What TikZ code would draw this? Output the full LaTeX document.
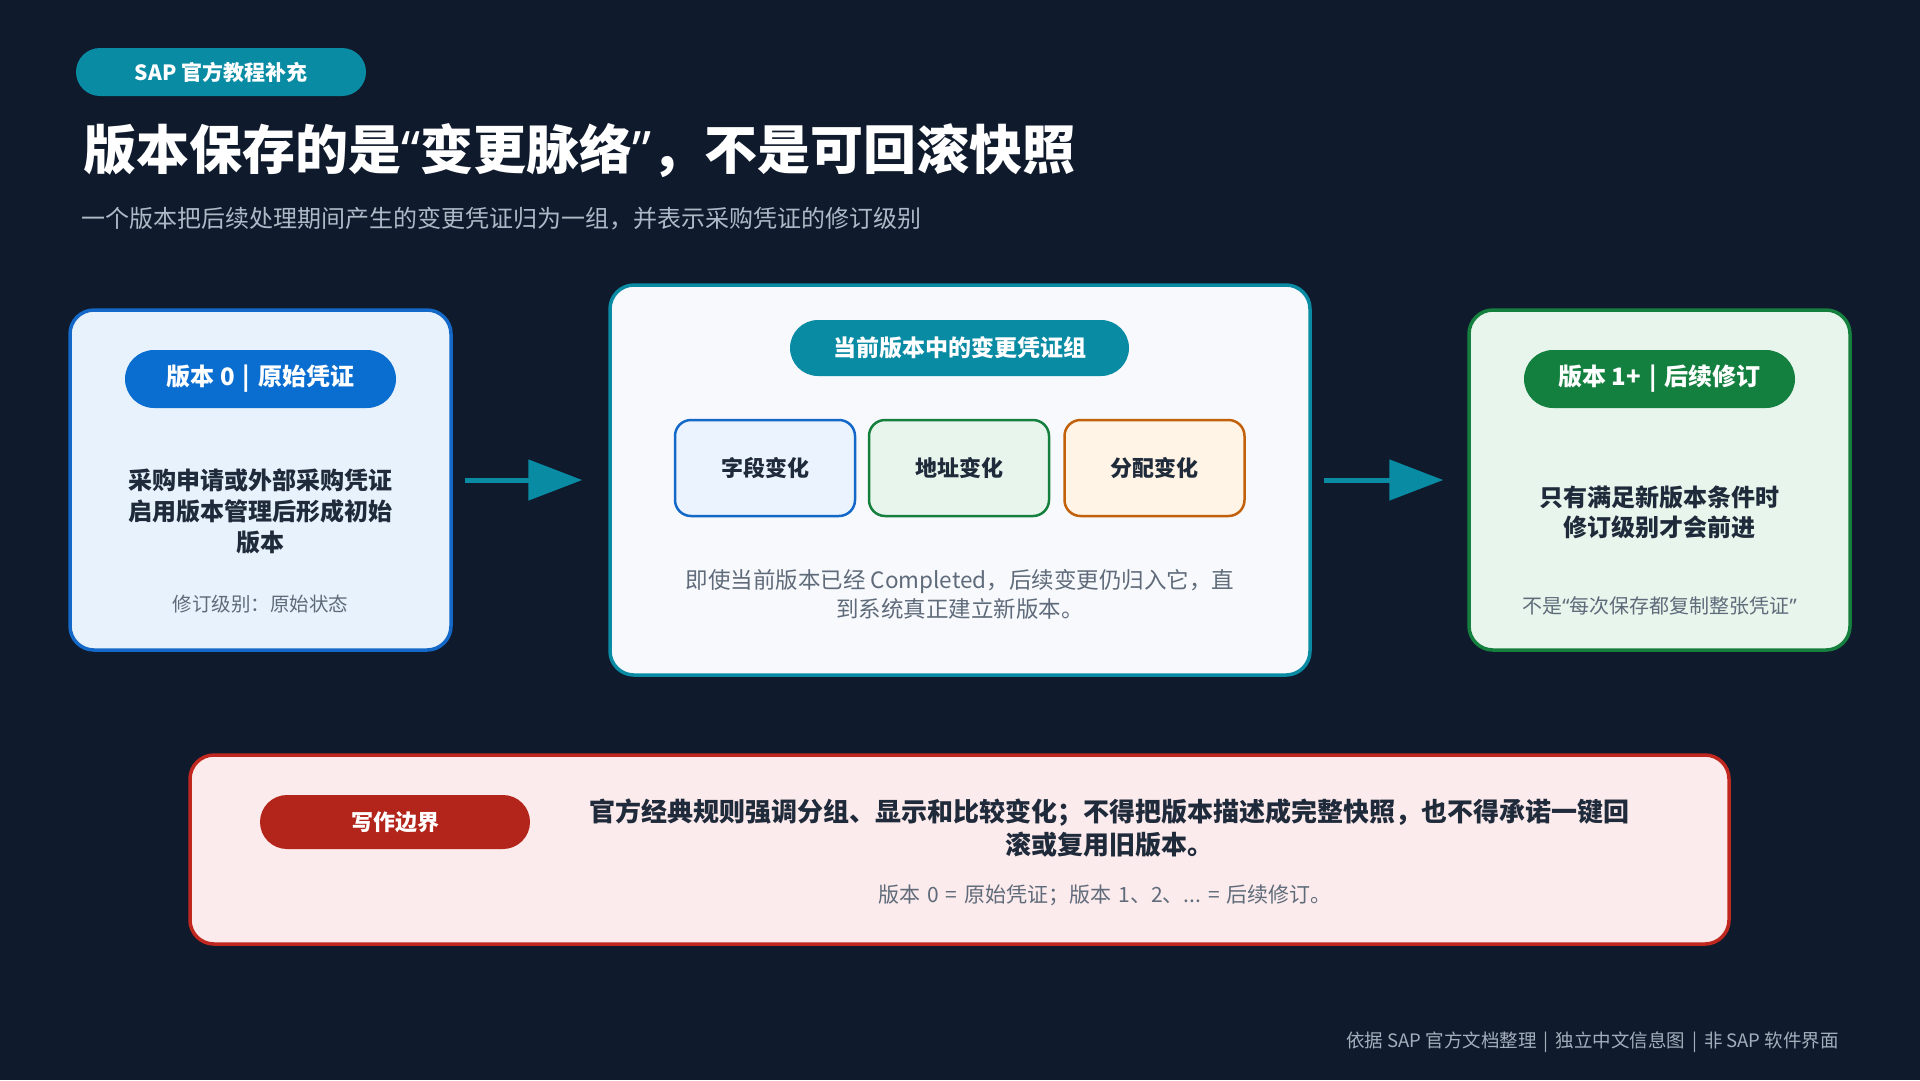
\documentclass[tikz,border=0pt]{standalone}
\usepackage{fontspec}
\setmainfont{Noto Sans CJK SC}
\newfontfamily\latinq{Noto Sans}
\newcommand{\myLq}{{\latinq “}}
\newcommand{\myRq}{{\latinq ”}}
\newcommand{\mySep}{\hspace{8pt}|\hspace{8pt}}
\usetikzlibrary{arrows.meta}
\definecolor{bg}{HTML}{0F1A2C}
\definecolor{tealc}{HTML}{0A8BA4}
\definecolor{blueb}{HTML}{1468C8}
\definecolor{bluep}{HTML}{0A6ED1}
\definecolor{bluef}{HTML}{E8F2FC}
\definecolor{blues}{HTML}{EBF4FE}
\definecolor{greenb}{HTML}{15803D}
\definecolor{greenp}{HTML}{13803F}
\definecolor{greenf}{HTML}{E8F5EC}
\definecolor{orangeb}{HTML}{C2610C}
\definecolor{orangef}{HTML}{FFF4E5}
\definecolor{redb}{HTML}{C0281F}
\definecolor{redp}{HTML}{B3241A}
\definecolor{redf}{HTML}{FCEBEC}
\definecolor{midf}{HTML}{F7F9FC}
\definecolor{ink}{HTML}{1F2A3A}
\definecolor{muted}{HTML}{5F6B7A}
\definecolor{subt}{HTML}{AEB8C6}
\definecolor{foot}{HTML}{A3ADBB}
\begin{document}
\begin{tikzpicture}[x=1pt,y=-1pt,
  card/.style={draw, line width=3.5pt, rounded corners=24pt, inner sep=0pt},
  pill/.style={inner sep=0pt, text=white, font=\bfseries\fontsize{24}{28}\selectfont},
  chip/.style={draw, line width=2.5pt, rounded corners=16pt, inner sep=0pt, minimum width=180pt, minimum height=96pt, text=ink, font=\bfseries\fontsize{22}{26}\selectfont},
  body/.style={text=ink, align=center, inner sep=0pt, font=\bfseries\fontsize{24}{30.6}\selectfont},
  note/.style={text=muted, align=center, inner sep=0pt, font=\fontsize{19.5}{24}\selectfont},
  arr/.style={draw=tealc, line width=5pt, -{Triangle[length=54pt,width=40pt]}}
]
\useasboundingbox (0,0) rectangle (1920,1080);
\fill[bg] (0,0) rectangle (1920,1080);

% header
\node[pill, fill=tealc, rounded corners=24pt, minimum width=290pt, minimum height=48pt,
      font=\bfseries\fontsize{21}{25}\selectfont] (tag) at (221,72) {SAP 官方教程补充};
\node[anchor=west, inner sep=0pt, text=white, font=\bfseries\fontsize{53}{60}\selectfont]
      (title) at (83,151) {版本保存的是\myLq 变更脉络\myRq ，不是可回滚快照};
\node[anchor=west, inner sep=0pt, text=subt, font=\fontsize{24}{30}\selectfont]
      (subtitle) at (81,219) {一个版本把后续处理期间产生的变更凭证归为一组，并表示采购凭证的修订级别};

% left card
\node[card, draw=blueb, fill=bluef, minimum width=381pt, minimum height=340pt] (left) at (260.5,480) {};
\node[pill, fill=bluep, rounded corners=29pt, minimum width=271pt, minimum height=58pt] (leftpill) at (260.5,379) {版本 0\mySep 原始凭证};
\node[body] (leftbody) at (260.5,511.5) {采购申请或外部采购凭证\\启用版本管理后形成初始\\版本};
\node[note] (leftnote) at (260.5,604) {修订级别：原始状态};

% middle card
\node[card, draw=tealc, fill=midf, minimum width=700pt, minimum height=390pt] (mid) at (960,480) {};
\node[pill, fill=tealc, rounded corners=28pt, minimum width=339pt, minimum height=56pt,
      font=\bfseries\fontsize{23}{27}\selectfont] (midpill) at (959.5,348) {当前版本中的变更凭证组};
\node[chip, draw=blueb, fill=blues] (c1) at (765,468) {字段变化};
\node[chip, draw=greenb, fill=greenf] (c2) at (959,468) {地址变化};
\node[chip, draw=orangeb, fill=orangef] (c3) at (1154.5,468) {分配变化};
\node[note, font=\fontsize{22.5}{29}\selectfont] (midbody) at (960,594.5)
      {即使当前版本已经 Completed，后续变更仍归入它，直\\到系统真正建立新版本。};

% right card
\node[card, draw=greenb, fill=greenf, minimum width=381pt, minimum height=340pt] (right) at (1659.5,480) {};
\node[pill, fill=greenp, rounded corners=29pt, minimum width=271pt, minimum height=58pt] (rightpill) at (1659.5,379) {版本 1+\mySep 后续修订};
\node[body] (rightbody) at (1659.5,512.5) {只有满足新版本条件时\\修订级别才会前进};
\node[note, font=\fontsize{20}{24}\selectfont] (rightnote) at (1659.5,606) {不是\myLq 每次保存都复制整张凭证\myRq};

% arrows
\draw[arr, shorten <=12pt, shorten >=26pt] (left.east) -- (mid.west);
\draw[arr, shorten <=12pt, shorten >=24pt] (mid.east) -- (right.west);

% bottom card
\node[card, draw=redb, fill=redf, minimum width=1539pt, minimum height=189pt] (bottom) at (959.5,849.5) {};
\node[pill, fill=redp, rounded corners=27pt, minimum width=270pt, minimum height=54pt,
      font=\bfseries\fontsize{22}{26}\selectfont] (bottompill) at (395,822) {写作边界};
\node[body, font=\bfseries\fontsize{26}{33}\selectfont] (bottombody) at (1109,828.5)
      {官方经典规则强调分组、显示和比较变化；不得把版本描述成完整快照，也不得承诺一键回\\滚或复用旧版本。};
\node[note, font=\fontsize{21}{26}\selectfont] (bottomnote) at (1105,895)
      {版本\hspace{7pt}0\hspace{7pt}=\hspace{7pt}原始凭证；版本\hspace{7pt}1、2、...\hspace{7pt}=\hspace{7pt}后续修订。};

% footer
\node[anchor=east, inner sep=0pt, text=foot, font=\fontsize{18.5}{22}\selectfont]
      (footer) at (1839,1042) {依据 SAP 官方文档整理\hspace{7pt}|\hspace{7pt}独立中文信息图\hspace{7pt}|\hspace{7pt}非 SAP 软件界面};
\end{tikzpicture}
\end{document}
